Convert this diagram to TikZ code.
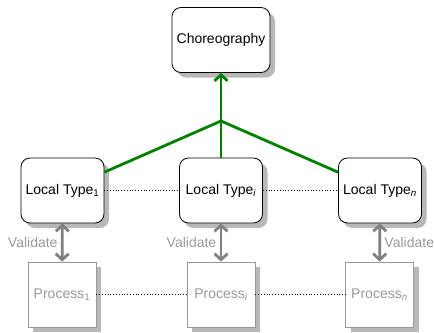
\documentclass[tikz,border=0pt]{standalone}
\usepackage{fontspec}
\setmainfont{Liberation Sans}
\usetikzlibrary{arrows.meta,shadows}
\definecolor{chorgreen}{RGB}{0,128,0}
\definecolor{procgray}{RGB}{153,153,153}
\definecolor{arrgray}{RGB}{128,128,128}
\tikzset{
  ltbox/.style={draw, fill=white, rounded corners=9pt, line width=0.8pt,
    minimum width=83pt, minimum height=65pt, font=\fontsize{14}{16}\selectfont,
    drop shadow={shadow xshift=5pt, shadow yshift=-5pt, fill=black!28, opacity=1}},
  procbox/.style={draw=procgray, fill=white, text=procgray, line width=0.8pt,
    minimum width=68pt, minimum height=65pt, font=\fontsize{14}{16}\selectfont,
    drop shadow={shadow xshift=5pt, shadow yshift=-5pt, fill=black!28, opacity=1}},
  validate/.style={draw=arrgray, line width=2.8pt, {Straight Barb[length=6pt,width=13pt]}-{Straight Barb[length=6pt,width=13pt]}},
  vlabel/.style={text=procgray, font=\fontsize{14}{16}\selectfont},
  links/.style={dotted, line width=0.8pt}
}
\begin{document}
\begin{tikzpicture}[x=1pt,y=-1pt]
  \useasboundingbox (0,0) rectangle (435,332);
  \node[ltbox, minimum width=98pt] (chor) at (221,40) {Choreography};
  \node[ltbox] (lt1) at (62.5,190.5) {Local Type\textsubscript{1}};
  \node[ltbox] (lti) at (221,190.5) {Local Type\textsubscript{\textit{i}}};
  \node[ltbox] (ltn) at (380,190.5) {Local Type\textsubscript{\textit{n}}};
  \node[procbox] (p1) at (62,294.5) {Process\textsubscript{1}};
  \node[procbox] (pi) at (221,294.5) {Process\textsubscript{\textit{i}}};
  \node[procbox] (pn) at (379.5,294.5) {Process\textsubscript{\textit{n}}};
  \coordinate (join) at (221,121);
  %projection
  \draw[chorgreen, line width=2.8pt] (lt1) -- (join) -- (ltn);
  \draw[chorgreen, line width=2.8pt] (lti) -- (join);
  \draw[chorgreen, line width=2.8pt, -{Straight Barb[length=6pt,width=13pt]}] (join) -- (chor);
  %dotted links
  \draw[links] (lt1) -- (lti) (lti) -- (ltn);
  \draw[links] (p1) -- (pi) (pi) -- (pn);
  %validation
  \draw[validate] (lt1) -- (p1) node[midway, left, vlabel] {Validate};
  \draw[validate] (lti) -- (pi) node[midway, left, vlabel] {Validate};
  \draw[validate] (ltn) -- (pn) node[midway, right, vlabel] {Validate};
\end{tikzpicture}
\end{document}
